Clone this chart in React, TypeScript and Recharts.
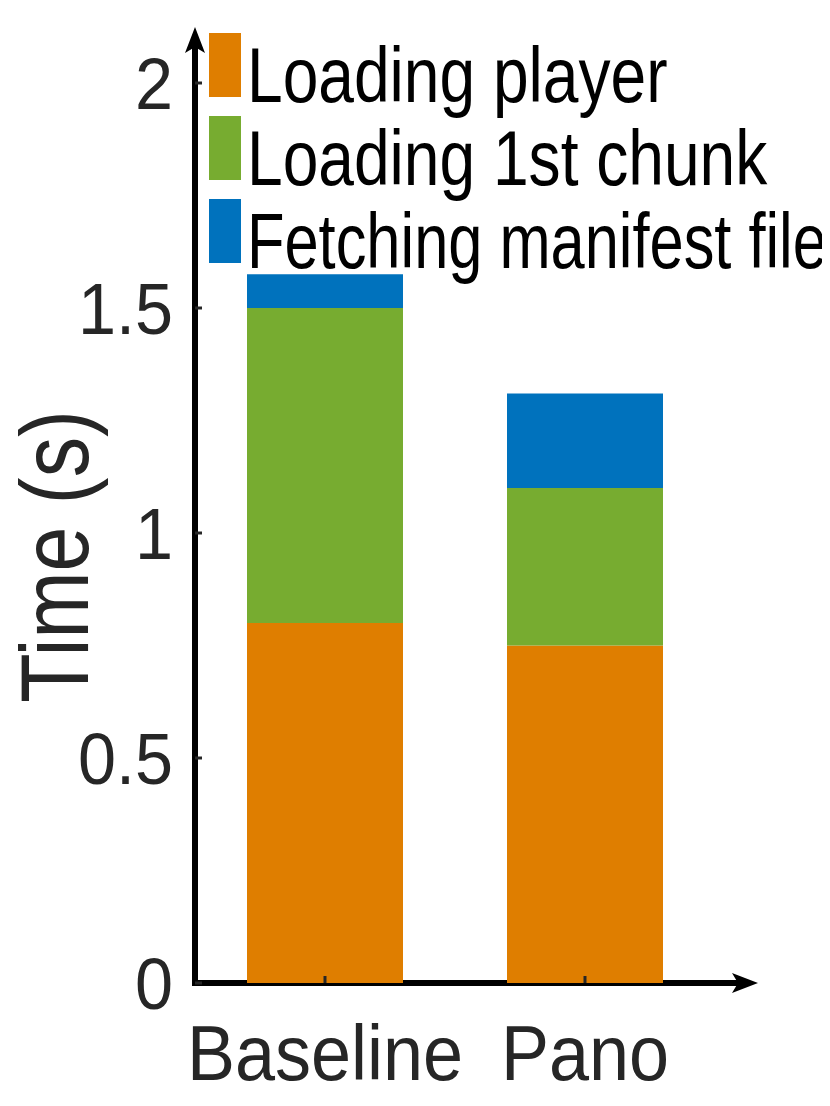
import { BarChart, Bar, XAxis, YAxis, Legend, usePlotArea } from 'recharts'

const categories = ['Baseline', 'Pano']
const loadingPlayer = [0.8, 0.75]
const loadingChunk = [0.7, 0.35]
const fetchingManifest = [0.075, 0.21]
const yTicks = [0, 0.5, 1, 1.5, 2]

const seriesNames = ['Loading player', 'Loading 1st chunk', 'Fetching manifest file']
const COLORS = ['#DF7E00', '#77AC30', '#0072BD']

// no narrow Helvetica available, so text gets squeezed horizontally
const FONT = "'Liberation Sans', Arial, sans-serif"

const data = categories.map((name, i) => ({
  name,
  player: loadingPlayer[i],
  chunk: loadingChunk[i],
  manifest: fetchingManifest[i],
}))

// width of a string at a given size, used to keep legend text inside the page
let measureCtx: CanvasRenderingContext2D | null = null
function textWidth(s: string, size: number) {
  if (!measureCtx) measureCtx = document.createElement('canvas').getContext('2d')
  if (!measureCtx) return s.length * size * 0.5
  measureCtx.font = `${size}px ${FONT}`
  return measureCtx.measureText(s).width
}

function YTick(props: any) {
  const { x, y, payload } = props
  return (
    <g transform={`translate(${x},${y}) scale(0.95,1)`}>
      <text textAnchor="end" dy="0.355em" fontFamily={FONT} fontSize={72} fill="#262626">
        {payload.value}
      </text>
    </g>
  )
}

function XTick(props: any) {
  const { x, y, payload } = props
  return (
    <g transform={`translate(${x},${y}) scale(0.935,1)`}>
      <text textAnchor="middle" dy={55} fontFamily={FONT} fontSize={77} fill="#262626">
        {payload.value}
      </text>
    </g>
  )
}

// axis lines with arrow heads, plus the rotated y label
function AxisArrows() {
  const plot = usePlotArea()
  if (!plot) return null
  const x0 = plot.x
  const y0 = plot.y + plot.height
  const yTip = plot.y - 11
  const xTip = plot.x + plot.width + 43
  const labelY = plot.y + plot.height / 2 + 46
  return (
    <g>
      <line x1={x0} y1={y0 + 3} x2={x0} y2={yTip + 20} stroke="#000" strokeWidth={6} />
      <polygon
        points={`${x0},${yTip} ${x0 + 10},${yTip + 26} ${x0},${yTip + 20} ${x0 - 10},${yTip + 26}`}
        fill="#000"
      />
      <line x1={x0 - 3} y1={y0} x2={xTip - 20} y2={y0} stroke="#000" strokeWidth={6} />
      <polygon
        points={`${xTip},${y0} ${xTip - 26},${y0 - 10} ${xTip - 20},${y0} ${xTip - 26},${y0 + 10}`}
        fill="#000"
      />
      <g transform={`translate(88, ${labelY}) rotate(-90) scale(0.84,1)`}>
        <text textAnchor="middle" fontFamily={FONT} fontSize={96} fill="#262626">
          Time (s)
        </text>
      </g>
    </g>
  )
}

function LegendBox() {
  const textX = 247
  const maxW = 830 - textX - 3
  return (
    <svg width={830} height={320} style={{ display: 'block', pointerEvents: 'none' }}>
      {seriesNames.map((n, i) => {
        const sx = Math.min(0.822, maxW / textWidth(n, 78))
        return (
          <g key={n}>
            <rect x={209} y={33 + i * 83} width={32} height={64} fill={COLORS[i]} />
            <g transform={`translate(${textX}, ${102 + i * 83}) scale(${sx},1)`}>
              <text fontFamily={FONT} fontSize={78} fill="#000">
                {n}
              </text>
            </g>
          </g>
        )
      })}
    </svg>
  )
}

export default function App() {
  return (
    <div style={{ width: 830, height: 1106, marginLeft: -8, marginTop: -8, background: '#fff' }}>
      <BarChart
        width={830}
        height={1106}
        data={data}
        margin={{ top: 38, right: 115, bottom: 0, left: 0 }}
        style={{ fontFamily: FONT }}
      >
        <Bar dataKey="player" name={seriesNames[0]} stackId="a" fill={COLORS[0]} barSize={156} isAnimationActive={false} />
        <Bar dataKey="chunk" name={seriesNames[1]} stackId="a" fill={COLORS[1]} barSize={156} isAnimationActive={false} />
        <Bar dataKey="manifest" name={seriesNames[2]} stackId="a" fill={COLORS[2]} barSize={156} isAnimationActive={false} />
        <YAxis
          width={195}
          domain={[0, 2.1]}
          ticks={yTicks}
          axisLine={false}
          tickSize={-7}
          tickMargin={29}
          tickLine={{ stroke: '#262626', strokeWidth: 3 }}
          tick={<YTick />}
          allowDataOverflow
        />
        <XAxis
          dataKey="name"
          height={123}
          axisLine={false}
          tickSize={-7}
          tickMargin={49}
          tickLine={{ stroke: '#262626', strokeWidth: 3 }}
          tick={<XTick />}
        />
        <Legend
          layout="vertical"
          align="center"
          verticalAlign="middle"
          wrapperStyle={{ left: 0, top: 0, width: 830, height: 320 }}
          content={() => <LegendBox />}
        />
        <AxisArrows />
      </BarChart>
    </div>
  )
}
